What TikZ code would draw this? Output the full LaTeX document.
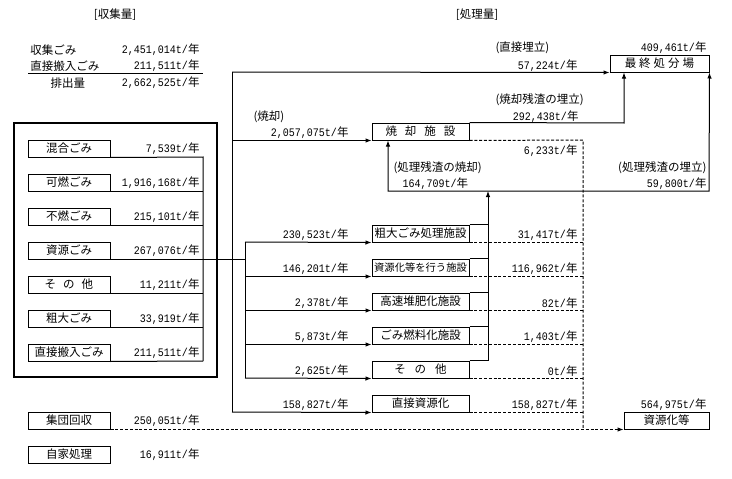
\documentclass[tikz,border=0pt]{standalone}
\usepackage{fontspec}
\setmainfont{Noto Sans CJK JP}
\newfontfamily\numfont{Liberation Mono}[FakeStretch=0.87]
\newcommand{\tpy}[1]{{\numfont #1t/}年}
\usetikzlibrary{arrows.meta}
\begin{document}
\begin{tikzpicture}[x=1pt,y=-1pt,line width=1pt,>={Latex[length=6pt,width=4.5pt]},
  every node/.style={inner sep=0pt,font=\fontsize{11.5}{13}\selectfont},
  src/.style={draw,minimum width=82pt,minimum height=17pt},
  fac/.style={draw,minimum width=97pt,minimum height=17pt},
  val/.style={anchor=east},
  lab/.style={anchor=west},
  rest/.style={dash pattern=on 3pt off 1.8pt}]
  \useasboundingbox (0,0) rectangle (732,479);

  % collection totals
  \node (hdr1) at (115,15) {[収集量]};
  \node (t1) at (30,50) [lab] {収集ごみ};
  \node (t2) at (30,66) [lab] {直接搬入ごみ};
  \node (t3) at (50,83) [lab] {排出量};
  \node (q1) at (200,50) [val] {\tpy{2,451,014}};
  \node (q2) at (200,66) [val] {\tpy{211,511}};
  \node (q3) at (200,83) [val] {\tpy{2,662,525}};
  \coordinate (u1) at (28,73);
  \coordinate (u2) at (203,73);
  \draw (u1) -- (u2);

  \draw [line width=2.4pt] (14,123) rectangle (217,377);

  \node (s1) at (69,148.5) [src] {混合ごみ};
  \node (s2) at (69,182.5) [src] {可燃ごみ};
  \node (s3) at (69,216.5) [src] {不燃ごみ};
  \node (s4) at (69,250.5) [src] {資源ごみ};
  \node (s5) at (69,284.5) [src] {そ\hspace{7pt}の\hspace{7pt}他};
  \node (s6) at (69,318.5) [src] {粗大ごみ};
  \node (s7) at (69,352.5) [src] {直接搬入ごみ};
  \node (grp) at (69,420.5) [src] {集団回収};
  \node (home) at (69,454.5) [src] {自家処理};

  \node (v1) at (200,148.5) [val] {\tpy{7,539}};
  \node (v2) at (200,182.5) [val] {\tpy{1,916,168}};
  \node (v3) at (200,216.5) [val] {\tpy{215,101}};
  \node (v4) at (200,250.5) [val] {\tpy{267,076}};
  \node (v5) at (200,284.5) [val] {\tpy{11,211}};
  \node (v6) at (200,318.5) [val] {\tpy{33,919}};
  \node (v7) at (200,352.5) [val] {\tpy{211,511}};
  \node (v8) at (200,420.5) [val] {\tpy{250,051}};
  \node (v9) at (200,454.5) [val] {\tpy{16,911}};

  \coordinate (c1) at (203,157);
  \coordinate (c7) at (203,361);
  \draw (s1.south east) -- (c1) -- (c7);
  \draw (s2.south east) -- (s2.south east -| c1);
  \draw (s3.south east) -- (s3.south east -| c1);
  \draw (s4.south east) -- (s4.south east -| c1);
  \draw (s5.south east) -- (s5.south east -| c1);
  \draw (s6.south east) -- (s6.south east -| c1);
  \draw (s7.south east) -- (c7);

  % treatment side
  \node (hdr2) at (477,15) {[処理量]};
  \node (land) at (659.5,63.5) [fac,minimum width=99pt] {最\hspace{3pt}終\hspace{3pt}処\hspace{3pt}分\hspace{3pt}場};
  \node (recy) at (666.5,420.5) [fac,minimum width=85pt] {資源化等};

  \node (f0) at (420.5,131.5) [fac] {焼\hspace{8pt}却\hspace{8pt}施\hspace{8pt}設};
  \node (f1) at (420.5,233.5) [fac] {粗大ごみ処理施設};
  \node (f2) at (420.5,267.5) [fac,font=\fontsize{10.3}{12}\selectfont] {資源化等を行う施設};
  \node (f3) at (420.5,301.5) [fac] {高速堆肥化施設};
  \node (f4) at (420.5,335.5) [fac] {ごみ燃料化施設};
  \node (f5) at (420.5,369.5) [fac] {そ\hspace{9pt}の\hspace{9pt}他};
  \node (f6) at (420.5,403.5) [fac] {直接資源化};

  % main bus
  \coordinate (m1) at (232,72);
  \coordinate (m2) at (232,412);
  \draw (m1) -- (m2);
  \draw [->] (m1) -- (land.south west);
  \draw [->] (m1 |- f0.south west) -- (f0.south west);
  \draw [->] (m2) -- (f6.south west);

  % bus to the other facilities
  \coordinate (b1) at (245,242);
  \coordinate (b2) at (245,378);
  \draw (s4.south east -| c1) -- (s4.south east -| b1);
  \draw (b1) -- (b2);
  \draw [->] (b1) -- (f1.south west);
  \draw [->] (b1 |- f2.south west) -- (f2.south west);
  \draw [->] (b1 |- f3.south west) -- (f3.south west);
  \draw [->] (b1 |- f4.south west) -- (f4.south west);
  \draw [->] (b2) -- (f5.south west);

  % residues
  \coordinate (r0) at (388,191);
  \coordinate (r1) at (488,191);
  \coordinate (r2) at (709,191);
  \draw (f1.north east) -- (f1.north east -| r1);
  \draw (f2.north east) -- (f2.north east -| r1);
  \draw (f3.north east) -- (f3.north east -| r1);
  \draw (f4.north east) -- (f4.north east -| r1);
  \draw [->] (f5.north east) -- (f5.north east -| r1) -- (r1);
  \draw [<->] (f0.south -| r0) -- (r0) -- (r2) -- (land.south east);

  \coordinate (a1) at (624,123);
  \draw [->] (f0.north east) -- (a1) -- (a1 |- land.south);

  % recycled
  \coordinate (d1) at (583,140);
  \coordinate (d2) at (583,429);
  \draw [rest] (f0.south east) -- (d1) -- (d2);
  \draw [rest] (f1.south east) -- (f1.south east -| d1);
  \draw [rest] (f2.south east) -- (f2.south east -| d1);
  \draw [rest] (f3.south east) -- (f3.south east -| d1);
  \draw [rest] (f4.south east) -- (f4.south east -| d1);
  \draw [rest] (f5.south east) -- (f5.south east -| d1);
  \draw [rest] (f6.south east) -- (f6.south east -| d1);
  \draw [rest,->] (grp.south east) -- (recy.south west);

  % flow labels
  \node (l1) at (253,117) [lab] {(焼却)};
  \node (l2) at (349,133) [val] {\tpy{2,057,075}};
  \node (l3) at (349,235) [val] {\tpy{230,523}};
  \node (l4) at (349,269) [val] {\tpy{146,201}};
  \node (l5) at (349,303) [val] {\tpy{2,378}};
  \node (l6) at (349,337) [val] {\tpy{5,873}};
  \node (l7) at (349,371) [val] {\tpy{2,625}};
  \node (l8) at (349,405) [val] {\tpy{158,827}};

  \node (o0) at (578,151) [val] {\tpy{6,233}};
  \node (o1) at (578,235) [val] {\tpy{31,417}};
  \node (o2) at (578,269) [val] {\tpy{116,962}};
  \node (o3) at (578,303) [val] {\tpy{82}};
  \node (o4) at (578,337) [val] {\tpy{1,403}};
  \node (o5) at (578,371) [val] {\tpy{0}};
  \node (o6) at (578,405) [val] {\tpy{158,827}};

  \node (k1) at (495,48) [lab] {(直接埋立)};
  \node (k2) at (578,66) [val] {\tpy{57,224}};
  \node (k3) at (707,48) [val] {\tpy{409,461}};
  \node (k4) at (495,100) [lab] {(焼却残渣の埋立)};
  \node (k5) at (579,117) [val] {\tpy{292,438}};
  \node (k6) at (393,168) [lab] {(処理残渣の焼却)};
  \node (k7) at (402,184) [lab] {\tpy{164,709}};
  \node (k8) at (707,168) [val] {(処理残渣の埋立)};
  \node (k9) at (707,184) [val] {\tpy{59,800}};
  \node (k10) at (707,405) [val] {\tpy{564,975}};
\end{tikzpicture}
\end{document}
